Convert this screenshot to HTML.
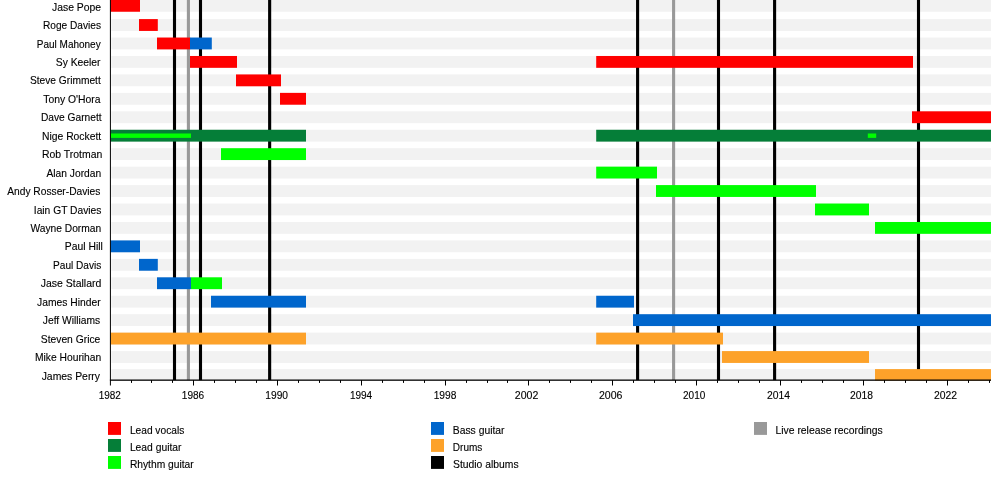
<!DOCTYPE html>
<html lang="en"><head><meta charset="utf-8"><title>Timeline</title>
<style>html,body{margin:0;padding:0;background:#fff;}body{width:1000px;height:480px;overflow:hidden;}svg{display:block;}text{font-family:"Liberation Sans",Arial,Helvetica,sans-serif;font-size:10.7px;fill:#000;stroke:#000;stroke-width:0.12px;}</style></head><body>
<svg width="1000" height="480" viewBox="0 0 1000 480">
<rect width="1000" height="480" fill="#fff"/>
<g fill="#f2f2f2">
<rect x="111.30" y="-0.10" width="879.70" height="11.85"/>
<rect x="111.30" y="19.09" width="879.70" height="11.85"/>
<rect x="111.30" y="37.54" width="879.70" height="11.85"/>
<rect x="111.30" y="55.98" width="879.70" height="11.85"/>
<rect x="111.30" y="74.43" width="879.70" height="11.85"/>
<rect x="111.30" y="92.87" width="879.70" height="11.85"/>
<rect x="111.30" y="111.31" width="879.70" height="11.85"/>
<rect x="111.30" y="129.76" width="879.70" height="11.85"/>
<rect x="111.30" y="148.20" width="879.70" height="11.85"/>
<rect x="111.30" y="166.65" width="879.70" height="11.85"/>
<rect x="111.30" y="185.09" width="879.70" height="11.85"/>
<rect x="111.30" y="203.53" width="879.70" height="11.85"/>
<rect x="111.30" y="221.98" width="879.70" height="11.85"/>
<rect x="111.30" y="240.42" width="879.70" height="11.85"/>
<rect x="111.30" y="258.87" width="879.70" height="11.85"/>
<rect x="111.30" y="277.31" width="879.70" height="11.85"/>
<rect x="111.30" y="295.75" width="879.70" height="11.85"/>
<rect x="111.30" y="314.20" width="879.70" height="11.85"/>
<rect x="111.30" y="332.64" width="879.70" height="11.85"/>
<rect x="111.30" y="351.09" width="879.70" height="11.85"/>
<rect x="111.30" y="369.10" width="879.70" height="11.50"/>
</g>
<g>
<rect x="172.95" y="0" width="3.10" height="380.10" fill="#000"/>
<rect x="186.85" y="0" width="3.10" height="380.10" fill="#999999"/>
<rect x="198.95" y="0" width="3.10" height="380.10" fill="#000"/>
<rect x="268.10" y="0" width="3.10" height="380.10" fill="#000"/>
<rect x="636.05" y="0" width="3.10" height="380.10" fill="#000"/>
<rect x="672.05" y="0" width="3.10" height="380.10" fill="#999999"/>
<rect x="716.95" y="0" width="3.10" height="380.10" fill="#000"/>
<rect x="773.05" y="0" width="3.10" height="380.10" fill="#000"/>
<rect x="916.95" y="0" width="3.10" height="380.10" fill="#000"/>
</g>
<g>
<rect x="110.40" y="-0.10" width="29.60" height="11.85" fill="#ff0000"/>
<rect x="139.00" y="19.09" width="18.80" height="11.85" fill="#ff0000"/>
<rect x="157.00" y="37.54" width="33.20" height="11.85" fill="#ff0000"/>
<rect x="190.00" y="37.54" width="21.80" height="11.85" fill="#0066cc"/>
<rect x="190.00" y="55.98" width="47.00" height="11.85" fill="#ff0000"/>
<rect x="596.20" y="55.98" width="316.80" height="11.85" fill="#ff0000"/>
<rect x="236.00" y="74.43" width="45.00" height="11.85" fill="#ff0000"/>
<rect x="280.00" y="92.87" width="26.00" height="11.85" fill="#ff0000"/>
<rect x="912.00" y="111.31" width="79.00" height="11.85" fill="#ff0000"/>
<rect x="110.40" y="129.76" width="195.60" height="11.85" fill="#057e38"/>
<rect x="596.20" y="129.76" width="394.80" height="11.85" fill="#057e38"/>
<rect x="221.00" y="148.20" width="85.00" height="11.85" fill="#00ff00"/>
<rect x="596.20" y="166.65" width="60.80" height="11.85" fill="#00ff00"/>
<rect x="656.00" y="185.09" width="160.00" height="11.85" fill="#00ff00"/>
<rect x="815.00" y="203.53" width="54.00" height="11.85" fill="#00ff00"/>
<rect x="875.00" y="221.98" width="116.00" height="11.85" fill="#00ff00"/>
<rect x="110.40" y="240.42" width="29.60" height="11.85" fill="#0066cc"/>
<rect x="139.00" y="258.87" width="18.80" height="11.85" fill="#0066cc"/>
<rect x="157.00" y="277.31" width="34.00" height="11.85" fill="#0066cc"/>
<rect x="191.00" y="277.31" width="31.00" height="11.85" fill="#00ff00"/>
<rect x="211.00" y="295.75" width="95.00" height="11.85" fill="#0066cc"/>
<rect x="596.20" y="295.75" width="37.80" height="11.85" fill="#0066cc"/>
<rect x="633.00" y="314.20" width="358.00" height="11.85" fill="#0066cc"/>
<rect x="110.40" y="332.64" width="195.60" height="11.85" fill="#fda22a"/>
<rect x="596.20" y="332.64" width="126.80" height="11.85" fill="#fda22a"/>
<rect x="722.00" y="351.09" width="147.00" height="11.85" fill="#fda22a"/>
<rect x="875.00" y="369.10" width="116.00" height="11.50" fill="#fda22a"/>
<rect x="110.40" y="133.48" width="80.60" height="4.40" fill="#00ff00"/>
<rect x="867.80" y="133.48" width="8.40" height="4.40" fill="#00ff00"/>
</g>
<g fill="#000">
<rect x="109.90" y="0" width="1" height="385.50"/>
<rect x="109.90" y="379.50" width="881.10" height="1.3"/>
<rect x="131" y="380.10" width="1" height="2.80"/>
<rect x="151" y="380.10" width="1" height="2.80"/>
<rect x="172" y="380.10" width="1" height="2.80"/>
<rect x="193" y="380.10" width="1" height="5.40"/>
<rect x="214" y="380.10" width="1" height="2.80"/>
<rect x="235" y="380.10" width="1" height="2.80"/>
<rect x="256" y="380.10" width="1" height="2.80"/>
<rect x="277" y="380.10" width="1" height="5.40"/>
<rect x="298" y="380.10" width="1" height="2.80"/>
<rect x="319" y="380.10" width="1" height="2.80"/>
<rect x="340" y="380.10" width="1" height="2.80"/>
<rect x="361" y="380.10" width="1" height="5.40"/>
<rect x="382" y="380.10" width="1" height="2.80"/>
<rect x="403" y="380.10" width="1" height="2.80"/>
<rect x="424" y="380.10" width="1" height="2.80"/>
<rect x="445" y="380.10" width="1" height="5.40"/>
<rect x="466" y="380.10" width="1" height="2.80"/>
<rect x="487" y="380.10" width="1" height="2.80"/>
<rect x="507" y="380.10" width="1" height="2.80"/>
<rect x="528" y="380.10" width="1" height="5.40"/>
<rect x="549" y="380.10" width="1" height="2.80"/>
<rect x="570" y="380.10" width="1" height="2.80"/>
<rect x="591" y="380.10" width="1" height="2.80"/>
<rect x="612" y="380.10" width="1" height="5.40"/>
<rect x="633" y="380.10" width="1" height="2.80"/>
<rect x="654" y="380.10" width="1" height="2.80"/>
<rect x="675" y="380.10" width="1" height="2.80"/>
<rect x="696" y="380.10" width="1" height="5.40"/>
<rect x="717" y="380.10" width="1" height="2.80"/>
<rect x="738" y="380.10" width="1" height="2.80"/>
<rect x="759" y="380.10" width="1" height="2.80"/>
<rect x="780" y="380.10" width="1" height="5.40"/>
<rect x="801" y="380.10" width="1" height="2.80"/>
<rect x="822" y="380.10" width="1" height="2.80"/>
<rect x="843" y="380.10" width="1" height="2.80"/>
<rect x="863" y="380.10" width="1" height="5.40"/>
<rect x="884" y="380.10" width="1" height="2.80"/>
<rect x="905" y="380.10" width="1" height="2.80"/>
<rect x="926" y="380.10" width="1" height="2.80"/>
<rect x="947" y="380.10" width="1" height="5.40"/>
<rect x="968" y="380.10" width="1" height="2.80"/>
<rect x="989" y="380.10" width="1" height="2.80"/>
</g>
<g>
<text transform="translate(98.70 398.70) scale(0.9333 1)">1982</text>
<text transform="translate(181.79 398.70) scale(0.9444 1)">1986</text>
<text transform="translate(265.28 398.70) scale(0.9556 1)">1990</text>
<text transform="translate(349.90 398.70) scale(0.9363 1)">1994</text>
<text transform="translate(433.68 398.70) scale(0.9556 1)">1998</text>
<text transform="translate(514.76 398.70) scale(0.9890 1)">2002</text>
<text transform="translate(598.91 398.70) scale(0.9890 1)">2006</text>
<text transform="translate(683.03 398.70) scale(0.9341 1)">2010</text>
<text transform="translate(767.02 398.70) scale(0.9674 1)">2014</text>
<text transform="translate(850.12 398.70) scale(0.9626 1)">2018</text>
<text transform="translate(933.91 398.70) scale(0.9714 1)">2022</text>
</g>
<g>
<text transform="translate(52.01 10.70) scale(0.9719 1)">Jase Pope</text>
<text transform="translate(43.04 29.14) scale(0.9475 1)">Roge Davies</text>
<text transform="translate(36.80 47.59) scale(0.9348 1)">Paul Mahoney</text>
<text transform="translate(55.77 66.03) scale(0.9650 1)">Sy Keeler</text>
<text transform="translate(29.92 84.48) scale(0.9546 1)">Steve Grimmett</text>
<text transform="translate(43.26 102.92) scale(0.9702 1)">Tony O'Hora</text>
<text transform="translate(40.88 121.36) scale(0.9562 1)">Dave Garnett</text>
<text transform="translate(42.02 139.81) scale(0.9668 1)">Nige Rockett</text>
<text transform="translate(42.02 158.25) scale(0.9751 1)">Rob Trotman</text>
<text transform="translate(46.50 176.70) scale(0.9575 1)">Alan Jordan</text>
<text transform="translate(7.25 195.14) scale(0.9562 1)">Andy Rosser-Davies</text>
<text transform="translate(33.79 213.58) scale(0.9601 1)">Iain GT Davies</text>
<text transform="translate(30.40 232.03) scale(0.9584 1)">Wayne Dorman</text>
<text transform="translate(64.87 250.47) scale(0.9669 1)">Paul Hill</text>
<text transform="translate(53.04 268.92) scale(0.9450 1)">Paul Davis</text>
<text transform="translate(40.75 287.36) scale(0.9811 1)">Jase Stallard</text>
<text transform="translate(37.01 305.80) scale(0.9641 1)">James Hinder</text>
<text transform="translate(42.86 324.25) scale(0.9603 1)">Jeff Williams</text>
<text transform="translate(40.77 342.69) scale(0.9630 1)">Steven Grice</text>
<text transform="translate(34.88 361.14) scale(0.9630 1)">Mike Hourihan</text>
<text transform="translate(41.66 379.58) scale(0.9724 1)">James Perry</text>
</g>
<g>
<rect x="108.00" y="422.00" width="13" height="12.9" fill="#ff0000"/>
<text transform="translate(129.88 433.90) scale(0.9536 1)">Lead vocals</text>
<rect x="108.00" y="439.00" width="13" height="12.9" fill="#057e38"/>
<text transform="translate(129.88 450.90) scale(0.9648 1)">Lead guitar</text>
<rect x="108.00" y="456.00" width="13" height="12.9" fill="#00ff00"/>
<text transform="translate(129.88 467.90) scale(0.9603 1)">Rhythm guitar</text>
<rect x="431.00" y="422.00" width="13" height="12.9" fill="#0066cc"/>
<text transform="translate(452.77 433.90) scale(0.9695 1)">Bass guitar</text>
<rect x="431.00" y="439.00" width="13" height="12.9" fill="#fda22a"/>
<text transform="translate(452.80 450.90) scale(0.9388 1)">Drums</text>
<rect x="431.00" y="456.00" width="13" height="12.9" fill="#000"/>
<text transform="translate(453.02 467.90) scale(0.9678 1)">Studio albums</text>
<rect x="754.00" y="422.00" width="13" height="12.9" fill="#999999"/>
<text transform="translate(775.47 433.90) scale(0.9703 1)">Live release recordings</text>
</g>
</svg></body></html>
